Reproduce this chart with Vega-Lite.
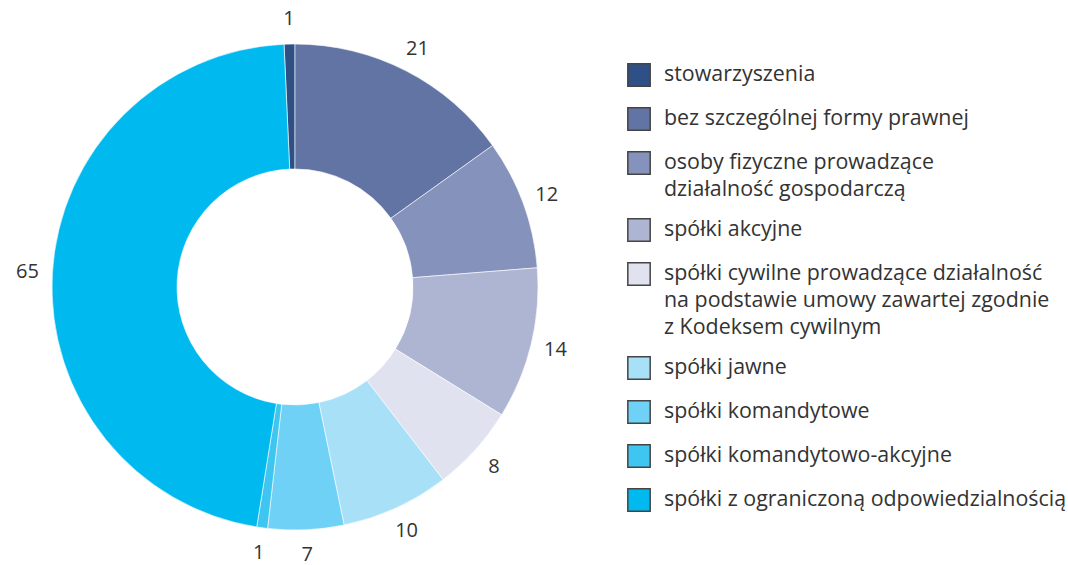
{
  "$schema": "https://vega.github.io/schema/vega-lite/v6.json",
  "width": 590,
  "height": 556,
  "padding": {"left": 0, "top": 9, "right": 0, "bottom": 0},
  "autosize": {"type": "pad"},
  "background": "white",
  "config": {
    "view": {"stroke": null},
    "font": "Open Sans",
    "style": {"guide-label": {"lineHeight": 27}}
  },
  "data": {
    "values": [
      {"k": 1, "kategoria": "stowarzyszenia", "liczba": 1},
      {"k": 2, "kategoria": "bez szczególnej formy prawnej", "liczba": 21},
      {"k": 3, "kategoria": "osoby fizyczne prowadzące działalność gospodarczą", "liczba": 12},
      {"k": 4, "kategoria": "spółki akcyjne", "liczba": 14},
      {"k": 5, "kategoria": "spółki cywilne prowadzące działalność na podstawie umowy zawartej zgodnie z Kodeksem cywilnym", "liczba": 8},
      {"k": 6, "kategoria": "spółki jawne", "liczba": 10},
      {"k": 7, "kategoria": "spółki komandytowe", "liczba": 7},
      {"k": 8, "kategoria": "spółki komandytowo-akcyjne", "liczba": 1},
      {"k": 9, "kategoria": "spółki z ograniczoną odpowiedzialnością", "liczba": 65}
    ]
  },
  "encoding": {
    "theta": {"field": "liczba", "type": "quantitative", "stack": true, "scale": {"range": [-0.0452, 6.238]}},
    "order": {"field": "k", "type": "quantitative"}
  },
  "layer": [
    {
      "mark": {"type": "arc", "innerRadius": 118, "outerRadius": 243, "stroke": "#ffffff", "strokeWidth": 0.6},
      "encoding": {
        "color": {
          "field": "kategoria",
          "type": "nominal",
          "sort": null,
          "scale": {
            "domain": [
              "stowarzyszenia",
              "bez szczególnej formy prawnej",
              "osoby fizyczne prowadzące działalność gospodarczą",
              "spółki akcyjne",
              "spółki cywilne prowadzące działalność na podstawie umowy zawartej zgodnie z Kodeksem cywilnym",
              "spółki jawne",
              "spółki komandytowe",
              "spółki komandytowo-akcyjne",
              "spółki z ograniczoną odpowiedzialnością"
            ],
            "range": ["#2E5087", "#6274A4", "#8492BC", "#AEB5D3", "#E1E2EF", "#A8E0F8", "#6FD1F5", "#3EC6F0", "#00B9EE"]
          },
          "legend": {
            "title": null,
            "orient": "none",
            "legendX": 627,
            "legendY": 54,
            "symbolType": "square",
            "symbolSize": 500,
            "symbolStrokeColor": "#444444",
            "symbolStrokeWidth": 1.5,
            "symbolOpacity": 1,
            "labelFont": "Open Sans",
            "labelFontSize": 21.4,
            "labelColor": "#333333",
            "labelOffset": 13,
            "labelLimit": 500,
            "rowPadding": 14,
            "labelExpr": "datum.label == 'osoby fizyczne prowadzące działalność gospodarczą' ? ['osoby fizyczne prowadzące', 'działalność gospodarczą'] : datum.label == 'spółki cywilne prowadzące działalność na podstawie umowy zawartej zgodnie z Kodeksem cywilnym' ? ['spółki cywilne prowadzące działalność', 'na podstawie umowy zawartej zgodnie', 'z Kodeksem cywilnym'] : datum.label"
          }
        }
      }
    },
    {
      "mark": {"type": "text", "radius": 268, "font": "Open Sans", "fontSize": 20, "color": "#333333"},
      "encoding": {
        "text": {"field": "liczba", "type": "quantitative"}
      }
    }
  ]
}
